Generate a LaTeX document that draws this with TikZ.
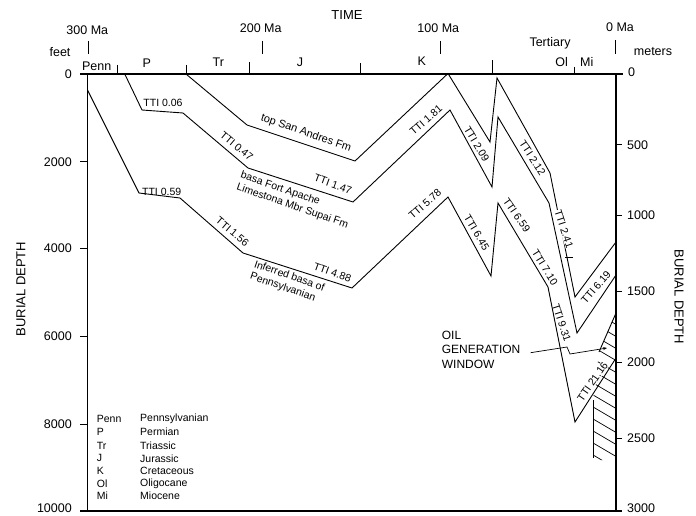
\documentclass[tikz,border=0pt]{standalone}
\usepackage{fontspec}
\setmainfont{Liberation Sans}
\usetikzlibrary{arrows.meta}
\begin{document}
\begin{tikzpicture}[x=1pt,y=-1pt,
  curve/.style={line width=0.9pt, line join=miter},
  axisline/.style={line width=1.2pt},
  tickline/.style={line width=1pt},
  tti/.style={font=\fontsize{10.5}{12}\selectfont, inner sep=0.6pt},
  fmlabel/.style={font=\fontsize{10.5}{12.5}\selectfont, inner sep=0pt, align=left},
  num/.style={font=\fontsize{12.5}{14}\selectfont, inner sep=0pt},
  title/.style={font=\fontsize{13}{15}\selectfont, inner sep=0pt},
  legtext/.style={font=\fontsize{10.5}{12}\selectfont, anchor=west, inner sep=0pt},
]
\useasboundingbox (0,0) rectangle (696,516);

% ---- axes frame
\draw[axisline] (80,74) -- (623,74);
\draw[axisline] (87.5,74) -- (87.5,511);
\draw[axisline] (616,74) -- (616,511);
\draw[axisline] (80,511) -- (622,511);

% ---- left axis (feet)
\node[num, anchor=east] (f0) at (72,74) {0};
\foreach \v/\yy in {2000/161.7, 4000/248.3, 6000/336, 8000/424} {
  \draw[tickline] (80,\yy) -- (87.5,\yy);
  \node[num, anchor=east] (f\v) at (72,\yy) {\v};
}
\draw[tickline] (80,511) -- (87.5,511);
\node[num, anchor=east] (f10000) at (72,508.5) {10000};
% ---- right axis (meters)
\node[num, anchor=west] (m0) at (628,72) {0};
\foreach \v/\yy in {500/145, 1000/215, 1500/291, 2000/362, 2500/438} {
  \draw[tickline] (616,\yy) -- (622,\yy);
  \node[num, anchor=west] (m\v) at (627,\yy) {\v};
}
\draw[tickline] (616,510) -- (622,510);
\node[num, anchor=west] (m3000) at (627,508.5) {3000};

\node[num] (feet) at (60,51.7) {feet};
\node[num] (meters) at (653,51.7) {meters};
\node[title, rotate=90] (bdl) at (21,289) {BURIAL DEPTH};
\node[title, rotate=-90] (bdr) at (679,297) {BURIAL DEPTH};
\node[title] (time) at (347,15) {TIME};

% ---- time ticks
\foreach \xx in {88, 262, 440} {
  \draw[tickline] (\xx,41) -- (\xx,54);
}
\node[num] (t300) at (87.3,30) {300 Ma};
\node[num] (t200) at (260.7,28.3) {200 Ma};
\node[num] (t100) at (438.3,28.3) {100 Ma};
\node[num] (t0) at (620,26.7) {0 Ma};
\draw[tickline] (615,40) -- (615,54);

% ---- period boundaries
\foreach \xx/\yt in {117/65, 186/65, 249/62, 360/63, 492/60, 574/67} {
  \draw[tickline] (\xx,\yt) -- (\xx,74);
}
\node[num] (pPenn) at (96.7,66) {Penn};
\node[num] (pP) at (146.7,63.3) {P};
\node[num] (pTr) at (218.3,62.7) {Tr};
\node[num] (pJ) at (300,62.7) {J};
\node[num] (pK) at (421.7,61.7) {K};
\node[num] (pOl) at (561.7,61.7) {Ol};
\node[num] (pMi) at (586.7,61.7) {Mi};
\node[num] (pTert) at (550,43.3) {Tertiary};

% ---- burial curves
\draw[curve] (186,74) -- (247,125) -- (355,161) -- (448,73.5) -- (490,142) -- (497,78)
  -- (550,173) -- (575,297) -- (616,242);
\draw[curve] (125,74.5) -- (142,110) -- (183,113) -- (248,168) -- (353,202) -- (450,110)
  -- (492,187) -- (498,117) -- (549,203) -- (577,333) -- (616,275);
\draw[curve] (87.5,90) -- (139,193) -- (180,198) -- (243,253) -- (352,288) -- (448,197)
  -- (491,276) -- (498,203) -- (548,287) -- (575,422) -- (616,358);

% ---- oil generation window (hatched)
\begin{scope}
  \clip (616,313) -- (599,352) -- (596,376) -- (593,400) -- (593,460) -- (616,460) -- cycle;
  \foreach \yy in {296,308,...,460} {
    \draw[line width=0.7pt] (588,\yy) -- ++(32,18.8);
  }
\end{scope}
\draw[curve] (616,313) -- (599,352);
\draw[curve] (593,400) -- (593,458);

\node[font=\fontsize{12}{14.5}\selectfont, align=left, anchor=west, inner sep=0pt] (oil) at (441.7,349.7) {OIL\\GENERATION\\WINDOW};
\draw[line width=0.7pt, -{Stealth[length=4pt,width=3pt]}] (oil.east) ++(10,3) coordinate (ls) (ls) -- (567,347) -- (570,354) -- (607,348);

% ---- TTI labels
\node[tti] (l006) at (163,103) {TTI 0.06};
\node[tti, rotate=-40] (l047) at (236.7,146) {TTI 0.47};
\node[tti, rotate=-20] (l147) at (333,184) {TTI 1.47};
\node[tti] (l059) at (161.7,191.7) {TTI 0.59};
\node[tti, rotate=-40] (l156) at (232.5,231.7) {TTI 1.56};
\node[tti, rotate=-20] (l488) at (332.5,272.5) {TTI 4.88};
\node[tti, rotate=41] (l181) at (426,120) {TTI 1.81};
\node[tti, rotate=-59] (l209) at (476.7,144) {TTI 2.09};
\node[tti, rotate=-57] (l212) at (532.5,158) {TTI 2.12};
\node[tti, rotate=-72, fill=white] (l241) at (564,229) {TTI 2.41};
\draw[line width=0.7pt] (565,257) -- (573,257);
\node[tti, rotate=41] (l578) at (425,204) {TTI 5.78};
\node[tti, rotate=-59] (l645) at (476.7,232.5) {TTI 6.45};
\node[tti, rotate=-55] (l659) at (516.7,215) {TTI 6.59};
\node[tti, rotate=-58] (l710) at (545,267.5) {TTI 7.10};
\node[tti, rotate=-72] (l931) at (561.7,322.5) {TTI 9.31};
\node[tti, rotate=49] (l619) at (596,287.5) {TTI 6.19};
\node[tti, rotate=55, fill=white] (l2116) at (592.5,381.7) {TTI 21.16};

% ---- formation labels
\node[fmlabel, font=\fontsize{11}{13}\selectfont, rotate=-19] (sanandres) at (306,133.3) {top San Andres Fm};
\node[fmlabel, rotate=-19] (fortapache) at (294.5,200.3) {basa Fort Apache\\Limestona Mbr Supai Fm};
\node[fmlabel, rotate=-19] (penn) at (287.2,282.4) {Inferred basa of\\Pennsylvanian};

% ---- legend
\foreach \ab/\full/\yy in {Penn/Pennsylvanian/419, P/Permian/432, Tr/Triassic/445.5, J/Jurassic/458.3, K/Cretaceous/470.7, Ol/Oligocane/483.3, Mi/Miocene/495.7} {
  \node[legtext] (la\ab) at (96.7,\yy) {\ab};
  \node[legtext] (lf\ab) at (140,\yy) {\full};
}
\end{tikzpicture}
\end{document}
